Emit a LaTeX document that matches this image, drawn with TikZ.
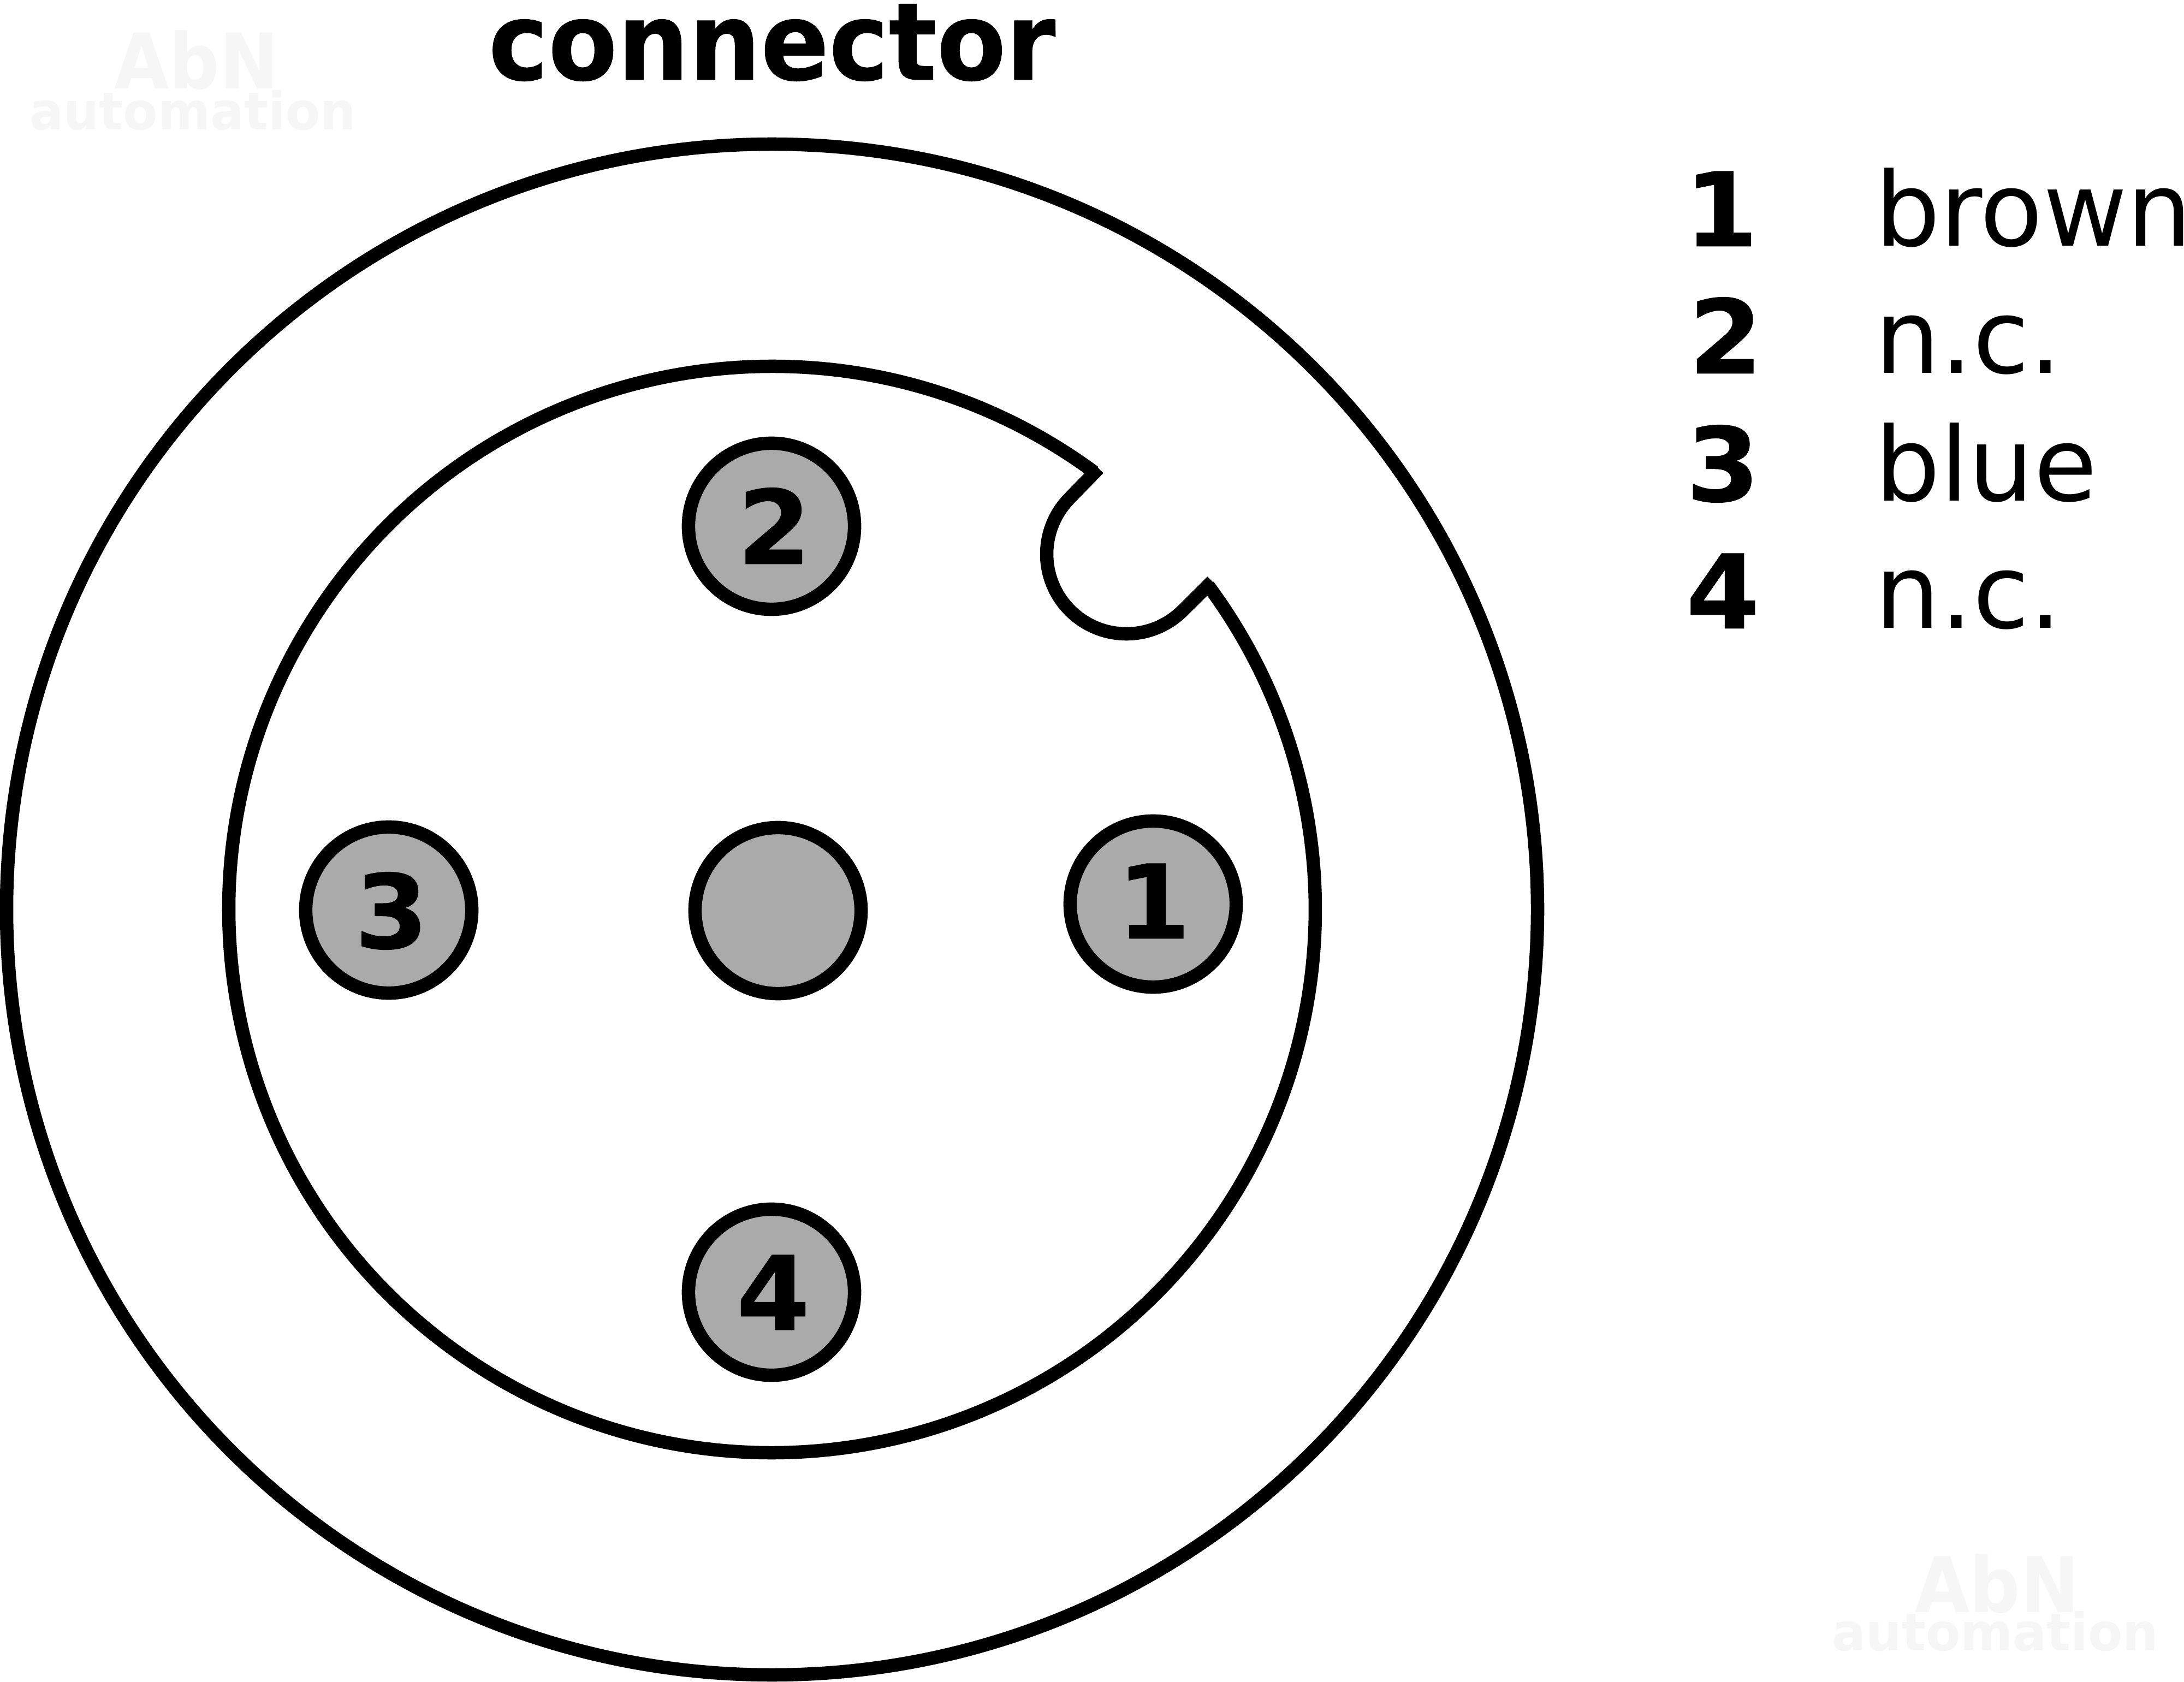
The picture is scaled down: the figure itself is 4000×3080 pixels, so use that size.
\documentclass[tikz,border=0pt]{standalone}
\usepackage{fontspec}
\setmainfont{DejaVu Sans}
\newfontfamily\heavyfont[BoldFeatures={FakeBold=0.5}]{DejaVu Sans}
\definecolor{pinfill}{HTML}{AAAAAA}
\definecolor{wmark}{HTML}{F6F6F6}
\newcommand{\fsize}[1]{\fontsize{#1}{#1}\selectfont}
\tikzset{
  ring/.style={draw=black,line width=0.245cm,line cap=butt},
  pin/.style={circle,draw=black,fill=pinfill,line width=0.245cm,minimum size=3.04cm,inner sep=0pt},
  txt/.style={inner sep=0pt,outer sep=0pt,text=black,transform shape},
  big/.style={txt,anchor=base,xscale=0.98,yscale=1.05,font=\fsize{53.5pt}\heavyfont\bfseries},
  num/.style={txt,anchor=base west,xscale=1.03,font=\fsize{53.5pt}\heavyfont\bfseries},
  pinnum/.style={txt,anchor=base,xscale=1.03,font=\fsize{53.5pt}\heavyfont\bfseries},
  wire/.style={txt,anchor=base west,font=\fsize{53.5pt}},
  wmbig/.style={inner sep=0pt,text=wmark,anchor=base,font=\fsize{40pt}\bfseries,xscale=0.92,transform shape},
  wmsmall/.style={inner sep=0pt,text=wmark,anchor=base,font=\fsize{27pt}\bfseries,xscale=0.97,transform shape}
}
\begin{document}
\begin{tikzpicture}[x=0.01cm,y=0.01cm]
\useasboundingbox (0,0) rectangle (4000,3080);
\clip (0,0) rectangle (4000,3080);
\fill[white] (0,0) rectangle (4000,3080);
% watermarks
\node[wmbig] (wa) at (360,2917) {AbN};
\node[wmsmall] (wb) at (353,2842) {automation};
\node[wmbig] (wc) at (3658,127) {AbN};
\node[wmsmall] (wd) at (3654,57) {automation};
% title
\node[big] (title) at (1414,2934) {connector};
% outer ring
\draw[ring] (1414,1414) circle (1402);
% inner contour with notch
\draw[ring] (1414,1414) ++(53.6:995) arc (53.6:396.6:995);
\draw[ring] (2012,2222) -- (1959.8,2168.2) arc (135:315:146) -- (2220,2015);
% pins
\node[pin] (p2) at (1413,2116) {};
\node[pin] (p4) at (1413,713) {};
\node[pin] (p3) at (712,1413) {};
\node[pin] (p0) at (1425,1412) {};
\node[pin] (p1) at (2112,1424) {};
\node[pinnum] (n2) at (1418,2047) {2};
\node[pinnum] (n4) at (1416,644) {4};
\node[pinnum] (n3) at (717,1343) {3};
\node[pinnum] (n1) at (2113,1361) {1};
% legend
\node[num] (l1) at (3085,2629) {1};
\node[num] (l2) at (3093,2396) {2};
\node[num] (l3) at (3088,2162) {3};
\node[num] (l4) at (3088,1929) {4};
\node[wire] (w1) at (3434,2629) {brown};
\node[wire] (w2) at (3434,2396) {n.c.};
\node[wire] (w3) at (3434,2162) {blue};
\node[wire] (w4) at (3434,1929) {n.c.};
\end{tikzpicture}
\end{document}
